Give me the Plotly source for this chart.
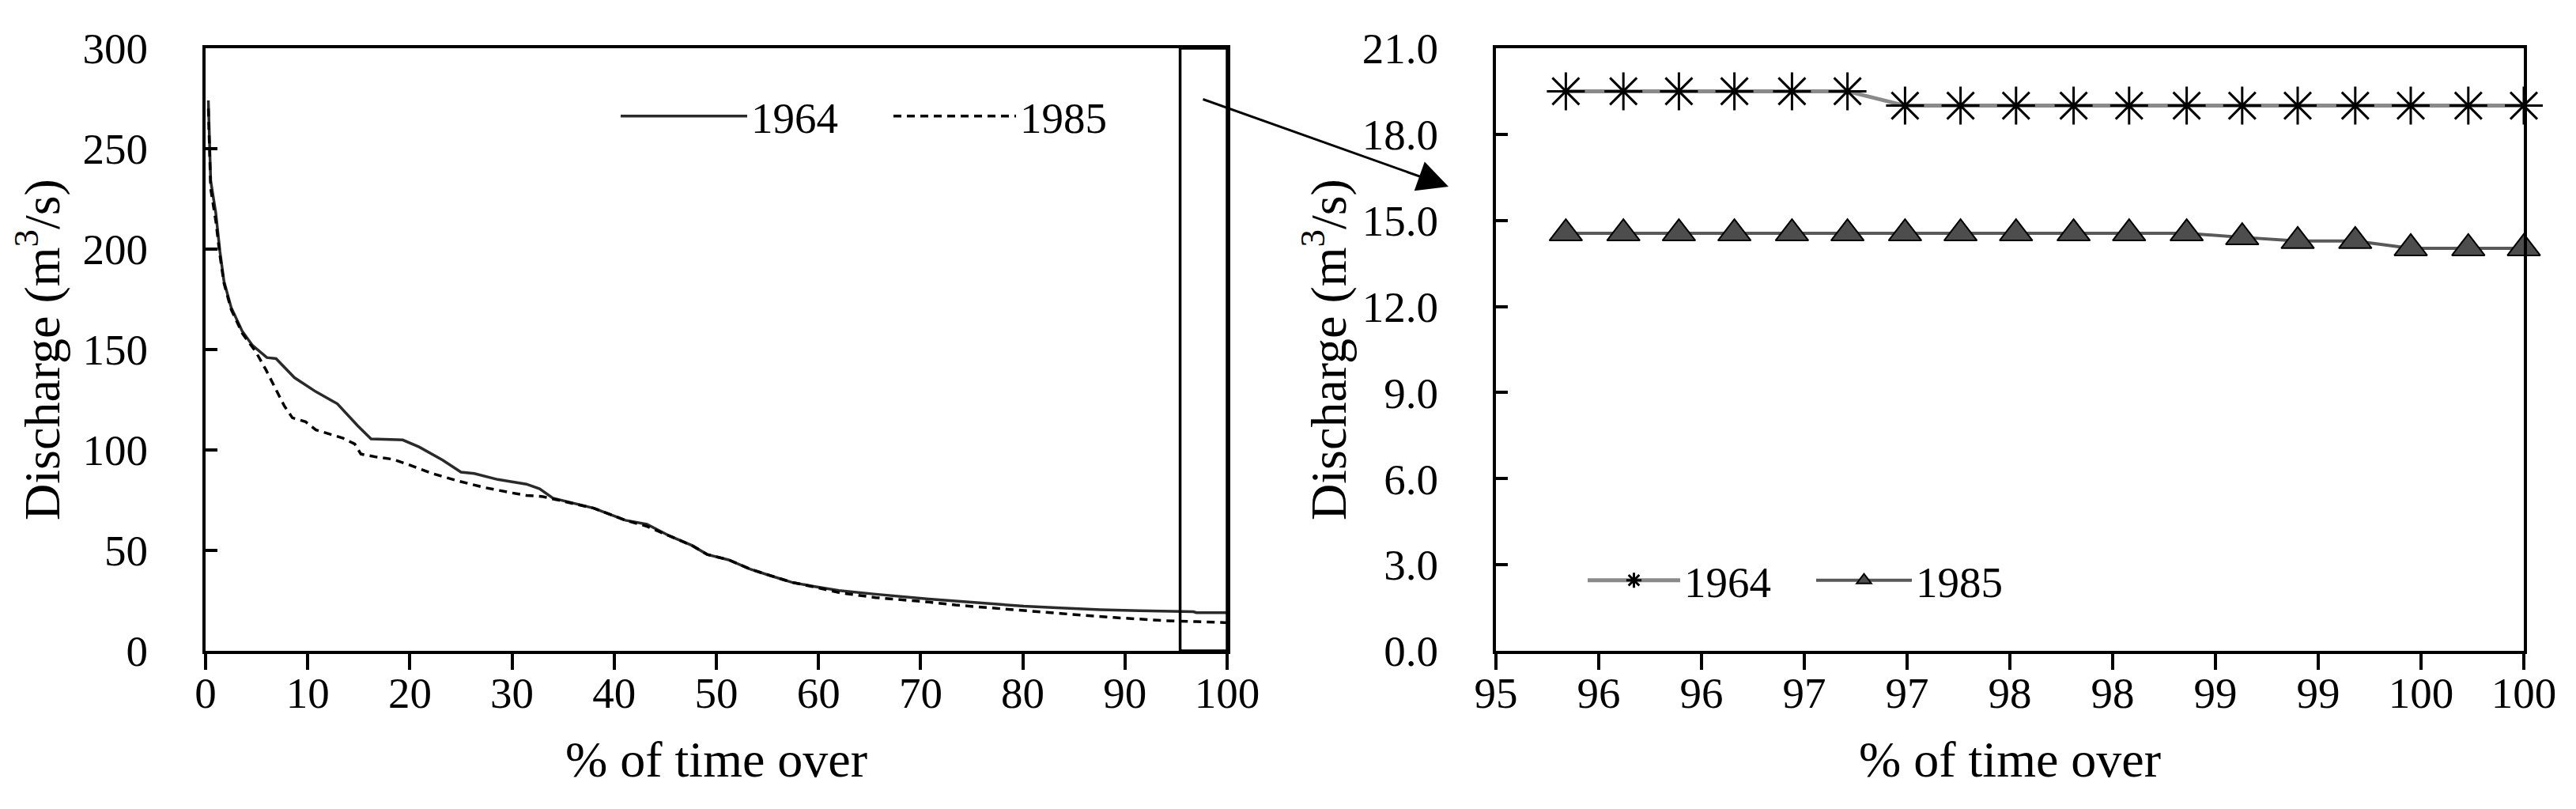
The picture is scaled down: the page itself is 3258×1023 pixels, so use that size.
import plotly.graph_objects as go

# ---------------- data ----------------
# Left panel: flow duration curves (% of time exceeded vs discharge)
pct_1964 = [0.27, 0.5, 1.0, 1.4, 1.8, 2.5, 3.6, 4.6, 6.0, 6.9, 8.7, 10.8, 12.9, 14.9,
            16.2, 19.3, 20.9, 23.2, 25.0, 26.3, 28.6, 31.4, 32.7, 34.0, 38.0, 41.1,
            43.2, 45.5, 47.6, 49.1, 51.2, 53.3, 55.3, 57.4, 59.4, 62.0, 65.6, 70.8,
            76.0, 80.1, 83.7, 87.6, 91.4, 94.0, 96.7, 97.0, 100.0]
q_1964 = [274, 234, 218, 199, 184, 171, 159, 152, 146, 145.5, 136, 129, 123, 112,
          105.5, 105, 101.5, 95, 89, 88.3, 85.3, 83, 80.7, 76, 71, 65,
          63, 57, 52.5, 48, 45.3, 40.7, 37.4, 34.1, 32.2, 30, 28.2, 25.8,
          23.8, 22.2, 21.4, 20.5, 20.0, 19.6, 19.5, 19.0, 19.0]

pct_1985 = [0.27, 0.5, 1.0, 1.4, 1.8, 2.5, 3.6, 4.9, 5.9, 7.1, 7.7, 8.5, 9.8, 10.8,
            13.4, 14.6, 15.2, 16.7, 18.3, 19.8, 22.2, 24.7, 27.3, 29.9, 31.4, 33.0,
            35.6, 38.0, 41.1, 43.2, 45.5, 47.6, 49.1, 51.2, 53.3, 55.3, 57.4, 59.4,
            62.0, 65.6, 70.8, 73.4, 78.5, 83.7, 88.9, 94.0, 97.0, 100.0]
q_1985 = [270, 230, 214, 197, 183, 170, 158, 149, 140, 128, 122, 116, 114, 110,
          106, 103, 98, 96.5, 95.4, 92.8, 88.3, 84.6, 81.3, 78.7, 77.4, 76.8,
          73.8, 71, 65, 62, 57, 52.5, 48, 45.3, 40.7, 37.4, 34.1, 32.0,
          29.0, 26.5, 24.3, 22.8, 20.6, 18.6, 16.6, 15.0, 14.55, 14.0]

# Right panel: zoom on the 95-100 % range
pct_zoom = [95.34, 95.62, 95.89, 96.16, 96.44, 96.71, 96.99, 97.26, 97.53,
            97.81, 98.08, 98.36, 98.63, 98.90, 99.18, 99.45, 99.73, 100.0]
q_zoom_1964 = [19.5, 19.5, 19.5, 19.5, 19.5, 19.5, 19.0, 19.0, 19.0,
               19.0, 19.0, 19.0, 19.0, 19.0, 19.0, 19.0, 19.0, 19.0]
q_zoom_1985 = [14.55, 14.55, 14.55, 14.55, 14.55, 14.55, 14.55, 14.55, 14.55,
               14.55, 14.55, 14.55, 14.41, 14.28, 14.28, 14.03, 14.03, 14.03]

zoom_start = 95.4          # start of the zoomed window drawn on the left panel

left_xticks = [0, 10, 20, 30, 40, 50, 60, 70, 80, 90, 100]
left_yticks = [0, 50, 100, 150, 200, 250, 300]
right_xtickvals = [95, 95.5, 96, 96.5, 97, 97.5, 98, 98.5, 99, 99.5, 100]
right_xticktext = ["95", "96", "96", "97", "97", "98", "98", "99", "99", "100", "100"]
right_ytickvals = [0, 3, 6, 9, 12, 15, 18, 21]
right_yticktext = ["0.0", "3.0", "6.0", "9.0", "12.0", "15.0", "18.0", "21.0"]

# ---------------- figure ----------------
W, H = 3258, 1023
FONT = "Liberation Serif"
TICK = 55
TITLE = 64

def px_x(p):
    return p / W

def px_y(p):
    return 1 - p / H

fig = go.Figure()

fig.add_trace(go.Scatter(x=pct_1964, y=q_1964, mode="lines", name="1964",
                         line=dict(color="#2a2a2a", width=3.5),
                         xaxis="x", yaxis="y", legend="legend"))
fig.add_trace(go.Scatter(x=pct_1985, y=q_1985, mode="lines", name="1985",
                         line=dict(color="#000000", width=3.5, dash="10px,7px"),
                         xaxis="x", yaxis="y", legend="legend2"))

fig.add_trace(go.Scatter(x=pct_zoom, y=q_zoom_1964, mode="lines+markers", name="1964",
                         line=dict(color="#8a8a8a", width=5),
                         marker=dict(symbol="asterisk-open", size=40, color="#000000",
                                     line=dict(color="#000000", width=3)),
                         cliponaxis=False,
                         xaxis="x2", yaxis="y2", legend="legend3"))
fig.add_trace(go.Scatter(x=pct_zoom, y=q_zoom_1985, mode="lines+markers", name="1985",
                         line=dict(color="#595959", width=4),
                         marker=dict(symbol="triangle-up", size=36, color="#4d4d4d",
                                     line=dict(color="#000000", width=2)),
                         cliponaxis=False,
                         xaxis="x2", yaxis="y2", legend="legend4"))

ydom = [px_y(815), px_y(53)]
axis_common = dict(showgrid=False, zeroline=False, showline=True, mirror=True,
                   automargin=False,
                   linecolor="black", linewidth=4, tickcolor="black", tickwidth=3.5,
                   tickfont=dict(family=FONT, size=TICK, color="black"))

fig.update_layout(
    width=W, height=H,
    margin=dict(l=0, r=0, t=0, b=0, autoexpand=False),
    paper_bgcolor="white", plot_bgcolor="white",
    font=dict(family=FONT, color="black"),
    xaxis=dict(domain=[px_x(252), px_x(1544)], range=[0, 100], tickvals=left_xticks,
               ticks="outside", ticklen=20, ticklabelstandoff=-18, anchor="y",
               title=dict(text="% of time over", font=dict(family=FONT, size=TITLE),
                          standoff=32),
               **axis_common),
    yaxis=dict(domain=ydom, range=[0, 300], tickvals=left_yticks,
               ticks="inside", ticklen=15, ticklabelstandoff=58, anchor="x",
               title=dict(text="Discharge (m<sup>3</sup>/s)",
                          font=dict(family=FONT, size=TITLE), standoff=20),
               **axis_common),
    xaxis2=dict(domain=[px_x(1884), px_x(3184)], range=[95, 100],
                tickvals=right_xtickvals, ticktext=right_xticktext,
                ticks="outside", ticklen=20, ticklabelstandoff=-18, anchor="y2",
                title=dict(text="% of time over", font=dict(family=FONT, size=TITLE),
                           standoff=32),
                **axis_common),
    yaxis2=dict(domain=ydom, range=[0, 21], tickvals=right_ytickvals,
                ticktext=right_yticktext,
                ticks="inside", ticklen=15, ticklabelstandoff=58, anchor="x2",
                title=dict(text="Discharge (m<sup>3</sup>/s)",
                           font=dict(family=FONT, size=TITLE), standoff=0),
                **axis_common),
    legend=dict(x=px_x(772), y=px_y(139), xanchor="left", yanchor="middle",
                itemwidth=160, bgcolor="rgba(0,0,0,0)",
                font=dict(family=FONT, size=TICK, color="black")),
    legend2=dict(x=px_x(1117), y=px_y(139), xanchor="left", yanchor="middle",
                 itemwidth=155, bgcolor="rgba(0,0,0,0)",
                 font=dict(family=FONT, size=TICK, color="black")),
    legend3=dict(x=px_x(1995), y=px_y(726), xanchor="left", yanchor="middle",
                 itemwidth=117, bgcolor="rgba(0,0,0,0)",
                 font=dict(family=FONT, size=TICK, color="black")),
    legend4=dict(x=px_x(2284), y=px_y(726), xanchor="left", yanchor="middle",
                 itemwidth=121, bgcolor="rgba(0,0,0,0)",
                 font=dict(family=FONT, size=TICK, color="black")),
    showlegend=True,
)

# zoom window on the left panel
fig.add_shape(type="rect", xref="x", yref="y", x0=zoom_start, x1=100, y0=0, y1=300,
              line=dict(color="black", width=3.5), fillcolor="rgba(0,0,0,0)")

# arrow pointing to the zoomed panel
fig.add_annotation(x=px_x(1824), y=px_y(228), xref="paper", yref="paper",
                   ax=-312, ay=-111, axref="pixel", ayref="pixel",
                   showarrow=True, arrowhead=2, arrowsize=2.6, arrowwidth=3,
                   arrowcolor="black", standoff=0, text="")

fig.write_html("out.html")
